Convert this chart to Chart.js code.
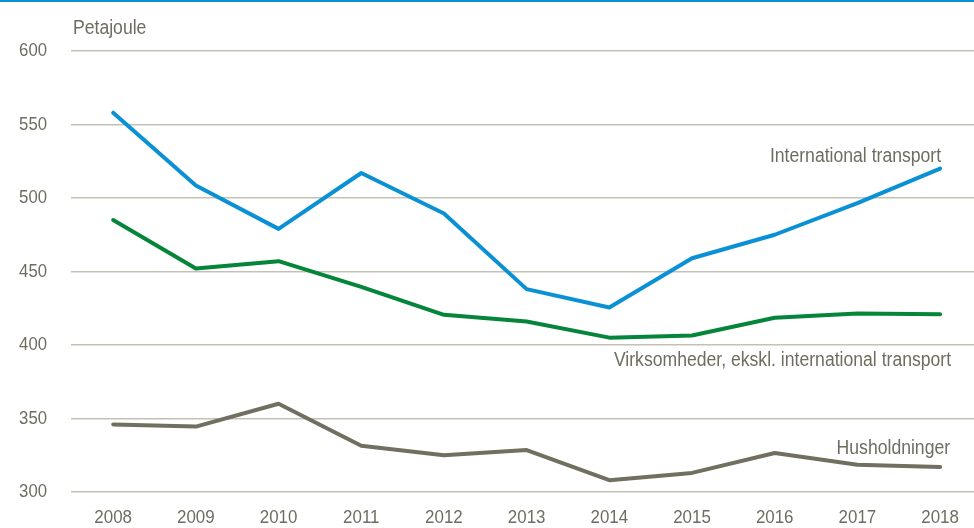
<!DOCTYPE html>
<html lang="da">
<head>
    <meta charset="UTF-8">
    <title>Energiforbrug</title>
    <style>
        html, body { margin: 0; padding: 0; background: #fff; }
        .wrap { width: 974px; height: 528px; position: relative; }
    </style>
    <script src="https://cdn.jsdelivr.net/npm/chart.js"></script>
</head>
<body>
<div class="wrap">
    <canvas id="chart" width="974" height="528"></canvas>
</div>
<script>
    // Data (Petajoule)
    const years = [2008, 2009, 2010, 2011, 2012, 2013, 2014, 2015, 2016, 2017, 2018];
    const internationalTransport = [558, 508.5, 479, 517, 489.5, 438, 425.5, 459, 475, 496.5, 520];
    const virksomheder = [485, 452, 457, 439.5, 420.5, 416, 405, 406.5, 418.5, 421.5, 421];
    const husholdninger = [346, 344.5, 360, 331.5, 325, 328.5, 308, 313, 326.5, 318.5, 317];
    const yTicks = [300, 350, 400, 450, 500, 550, 600];

    const blue = '#0a91d5';
    const green = '#05853a';
    const grey = '#706f60';
    const textColor = '#6e6d60';
    const font = '"Liberation Sans", Arial, sans-serif';

    const points = arr => arr.map((v, i) => ({ x: years[i], y: v }));

    // smal tekst (som Arial Narrow): vandret sammentrykt
    function narrowText(ctx, text, x, y, align, size, sx) {
        ctx.save();
        ctx.font = size + 'px ' + font;
        ctx.fillStyle = textColor;
        ctx.textBaseline = 'middle';
        ctx.textAlign = align;
        ctx.translate(x, y);
        ctx.scale(sx, 1);
        ctx.fillText(text, 0, 0);
        ctx.restore();
    }

    // Aksetekster, tekster ved linjerne, topbjælke og enhed
    const labelsPlugin = {
        id: 'labels',
        afterDraw(chart) {
            const ctx = chart.ctx;
            const x = chart.scales.x;
            const y = chart.scales.y;
            const area = chart.chartArea;
            ctx.save();
            ctx.fillStyle = blue;
            ctx.fillRect(0, 0, chart.width, 2);
            ctx.restore();

            yTicks.forEach(v => narrowText(ctx, String(v), area.left - 24, y.getPixelForValue(v), 'right', 18.6, 0.9));
            years.forEach(v => narrowText(ctx, String(v), x.getPixelForValue(v), area.bottom + 26, 'center', 18.6, 0.91));

            narrowText(ctx, 'Petajoule', area.left + 2, 28, 'left', 20, 0.88);

            const last = years.length - 1;
            const xr = x.getPixelForValue(years[last]);
            narrowText(ctx, 'International transport', xr + 1, y.getPixelForValue(internationalTransport[last]) - 12, 'right', 20, 0.88);
            narrowText(ctx, 'Virksomheder, ekskl. international transport', xr + 11, y.getPixelForValue(virksomheder[last]) + 46, 'right', 20, 0.88);
            narrowText(ctx, 'Husholdninger', xr + 10, y.getPixelForValue(husholdninger[last]) - 19, 'right', 20, 0.88);
        }
    };

    new Chart(document.getElementById('chart'), {
        type: 'line',
        data: {
            datasets: [
                { label: 'International transport', data: points(internationalTransport), borderColor: blue },
                { label: 'Virksomheder, ekskl. international transport', data: points(virksomheder), borderColor: green },
                { label: 'Husholdninger', data: points(husholdninger), borderColor: grey }
            ]
        },
        options: {
            responsive: false,
            animation: false,
            layout: { padding: { left: 0, top: 51, right: 0, bottom: 0 } },
            elements: {
                line: { borderWidth: 4, tension: 0, borderJoinStyle: 'round', borderCapStyle: 'round' },
                point: { radius: 0 }
            },
            plugins: {
                legend: { display: false },
                tooltip: { enabled: false }
            },
            scales: {
                x: {
                    type: 'linear',
                    min: 2007.49,
                    max: 2018.41,
                    grid: { display: false },
                    border: { display: false },
                    afterBuildTicks: scale => { scale.ticks = years.map(v => ({ value: v })); },
                    afterFit: scale => { scale.height = 36; },
                    ticks: { display: false }
                },
                y: {
                    min: 300,
                    max: 600,
                    afterBuildTicks: scale => { scale.ticks = yTicks.map(v => ({ value: v })); },
                    afterFit: scale => { scale.width = 71; },
                    grid: { color: '#c4c1b4', lineWidth: 1.5, drawTicks: false },
                    border: { display: false },
                    ticks: { display: false }
                }
            }
        },
        plugins: [labelsPlugin]
    });
</script>
</body>
</html>
